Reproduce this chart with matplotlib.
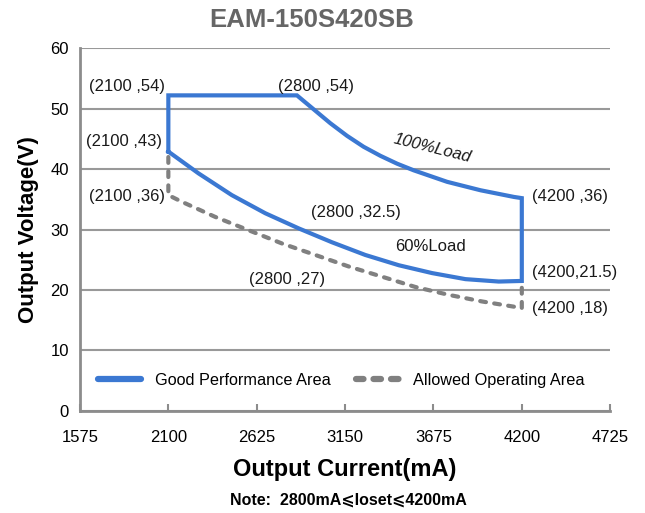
import numpy as np
import matplotlib.pyplot as plt
from matplotlib.lines import Line2D

plt.rcParams['font.family'] = ['Liberation Sans', 'DejaVu Sans']

# Good Performance Area (blue)
top_x = [2100, 2100, 2864]
top_y = [42.9, 52.2, 52.2]
upper_x = [2864, 2963, 3062, 3162, 3260, 3360, 3459, 3558, 3756, 3955, 4153, 4200]
upper_y = [52.2, 49.9, 47.6, 45.5, 43.7, 42.2, 40.9, 39.8, 37.9, 36.5, 35.4, 35.2]
lower_x = [4200, 4063, 3865, 3667, 3469, 3270, 3072, 2874, 2676, 2477, 2279, 2100]
lower_y = [21.5, 21.4, 21.8, 22.8, 24.1, 25.8, 27.9, 30.2, 32.7, 35.7, 39.3, 42.9]

# Allowed Operating Area (grey dashed)
allowed_x = [2100, 2100, 2180, 2378, 2576, 2775, 2973, 3171, 3370, 3568, 3766, 3965,
             4163, 4200, 4200]
allowed_y = [42.0, 35.7, 34.6, 32.1, 29.9, 27.7, 25.8, 23.9, 22.2, 20.5, 19.2, 18.1,
             17.2, 17.0, 21.1]

xticks = [1575, 2100, 2625, 3150, 3675, 4200, 4725]
yticks = [0, 10, 20, 30, 40, 50, 60]

# point labels: text, x, y, horizontal alignment
point_labels = [
    ("(2100 ,54)", 1855, 53.7, 'center'),
    ("(2800 ,54)", 2979, 53.7, 'center'),
    ("(2100 ,43)", 1837, 44.6, 'center'),
    ("(2100 ,36)", 1855, 35.5, 'center'),
    ("(2800 ,32.5)", 3217, 32.8, 'center'),
    ("(2800 ,27)", 2805, 21.8, 'center'),
    ("(4200 ,36)", 4262, 35.5, 'left'),
    ("(4200,21.5)", 4262, 22.9, 'left'),
    ("(4200 ,18)", 4262, 16.9, 'left'),
]

blue = '#3b78d2'
grey = '#808080'

fig = plt.figure(figsize=(6.45, 5.13), dpi=100)
ax = fig.add_axes([0.124, 0.199, 0.822, 0.707])

blue_x = top_x + upper_x[1:] + lower_x
blue_y = top_y + upper_y[1:] + lower_y
ax.plot(allowed_x, allowed_y, color=grey, lw=3, dashes=(1.4, 2.0),
        dash_capstyle='round', zorder=2)
ax.plot(blue_x, blue_y, color=blue, lw=3, solid_joinstyle='miter', zorder=3)

for txt, x, y, ha in point_labels:
    ax.text(x, y, txt, fontsize=12, ha=ha, va='center', color='#1a1a1a')

ax.text(3669, 43.4, "100%Load", fontsize=12, style='italic', rotation=-14,
        ha='center', va='center', color='#1a1a1a')
ax.text(3657, 27.2, "60%Load", fontsize=12, ha='center', va='center', color='#1a1a1a')

ax.set_xlim(1575, 4725)
ax.set_ylim(0, 60)
ax.set_xticks(xticks)
ax.set_yticks(yticks)
ax.grid(axis='y', color='#999999', lw=1.5)
ax.set_axisbelow(True)
for s in ['top', 'right']:
    ax.spines[s].set_visible(False)
for s in ['left', 'bottom']:
    ax.spines[s].set_color('#8c8c8c')
    ax.spines[s].set_linewidth(2)
ax.tick_params(axis='x', direction='in', length=5, width=1.5, color='#8c8c8c',
               labelsize=12, pad=14)
ax.tick_params(axis='y', length=0, labelsize=12, pad=8)

# title sits a bit left of the plot centre in the original
fig.text(0.483, 0.961, "EAM-150S420SB", fontsize=18.5, fontweight='bold',
         color='#666666', ha='center', va='center')
ax.set_xlabel("Output Current(mA)", fontsize=17, fontweight='bold', labelpad=9)
ax.set_ylabel("Output Voltage(V)", fontsize=16, fontweight='bold', labelpad=8)
fig.text(0.54, 0.025, "Note:  2800mA\u2a7dIoset\u2a7d4200mA", fontsize=11.5,
         fontweight='bold', ha='center', va='center')

handles = [Line2D([], [], color=blue, lw=4.5, solid_capstyle='round'),
           Line2D([], [], color=grey, lw=4.5, dashes=(1.2, 1.6), dash_capstyle='round')]
ax.legend(handles, ["Good Performance Area", "Allowed Operating Area"], ncol=2,
          loc='center left', bbox_to_anchor=(0.006, 0.085), frameon=False,
          fontsize=11.7, handlelength=2.65, columnspacing=1.5, handletextpad=0.9)

fig.savefig('out.png', dpi=100)
